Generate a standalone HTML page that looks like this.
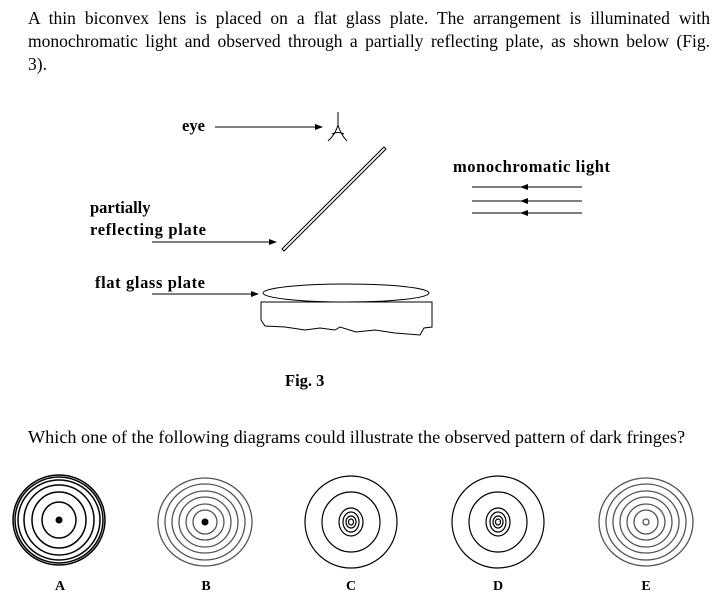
<!DOCTYPE html>
<html><head><style>
body{margin:0;background:#fff;}
svg{display:block;position:absolute;left:0;top:0;}
.p{position:absolute;left:28px;width:682px;font-family:"Liberation Serif",serif;font-size:17.5px;line-height:23px;color:#000;white-space:nowrap;}
.j{text-align:justify;text-align-last:justify;white-space:normal;}
</style></head><body>
<div class="p j" style="top:7px">A thin biconvex lens is placed on a flat glass plate. The arrangement is illuminated with</div>
<div class="p j" style="top:30px">monochromatic light and observed through a partially reflecting plate, as shown below (Fig.</div>
<div class="p" style="top:53px">3).</div>
<div class="p" style="top:426px;font-size:18.2px">Which one of the following diagrams could illustrate the observed pattern of dark fringes?</div>
<svg width="719" height="615" xmlns="http://www.w3.org/2000/svg" font-family="Liberation Serif, serif">
<defs><marker id="ar" markerWidth="8" markerHeight="6" refX="7" refY="3" orient="auto" markerUnits="userSpaceOnUse"><path d="M0,0 L8,3 L0,6z" fill="#000"/></marker></defs>
<g font-size="16.5" font-weight="bold">
<text x="182" y="131">eye</text>
<text x="453" y="172" textLength="157">monochromatic light</text>
<text x="90" y="213">partially</text>
<text x="90" y="235" textLength="116">reflecting plate</text>
<text x="95" y="288" textLength="110">flat glass plate</text>
<text x="285" y="386">Fig. 3</text>
</g>
<g stroke="#000" stroke-width="1" fill="none">
<line x1="215" y1="127" x2="322" y2="127" marker-end="url(#ar)"/>
<path d="M338,112 L338,125 Q335,135 328,141 M338,125 Q341,135 347,141 M332,134 Q338,131 344,134"/>
<path d="M282,249 L384,147 L386,149 L284,251 Z"/>
<line x1="472" y1="187" x2="582" y2="187"/><line x1="472" y1="201" x2="582" y2="201"/><line x1="472" y1="213" x2="582" y2="213"/>
<line x1="152" y1="242" x2="276" y2="242" marker-end="url(#ar)"/>
<line x1="152" y1="294" x2="258" y2="294" marker-end="url(#ar)"/>
<ellipse cx="346" cy="293" rx="83" ry="9"/>
<path d="M261,302 L432,302 L432,327 L424,328 L420,335 L395,333 L375,330 L356,332 L340,327 L335,330 L320,328 L305,330 L285,327 L265,326 L261,320 Z"/>
</g>
<g fill="#000">
<path d="M528,184 L520,187 L528,190z"/><path d="M528,198 L520,201 L528,204z"/><path d="M528,210 L520,213 L528,216z"/>
</g>
<g fill="none" stroke="#000">
<g stroke-width="1.5"><ellipse cx="59" cy="520" rx="46" ry="45"/><ellipse cx="59" cy="520" rx="44" ry="43"/><ellipse cx="59" cy="520" rx="41" ry="40"/><ellipse cx="59" cy="520" rx="35" ry="35"/><ellipse cx="59" cy="520" rx="27" ry="28"/><ellipse cx="59" cy="520" rx="17" ry="18"/></g>
<g stroke="#555" stroke-width="1.3"><ellipse cx="205" cy="522" rx="47" ry="44"/><ellipse cx="205" cy="522" rx="40" ry="38"/><ellipse cx="205" cy="522" rx="33" ry="31"/><ellipse cx="205" cy="522" rx="26" ry="25"/><ellipse cx="205" cy="522" rx="19" ry="18"/><ellipse cx="205" cy="522" rx="12" ry="12"/></g>
<g stroke-width="1.2"><ellipse cx="351" cy="522" rx="46" ry="46"/><ellipse cx="351" cy="522" rx="29" ry="30"/><ellipse cx="351" cy="522" rx="12" ry="14"/><ellipse cx="351" cy="522" rx="8" ry="10"/><ellipse cx="351" cy="522" rx="5" ry="6"/><ellipse cx="351" cy="522" rx="2.5" ry="3"/></g>
<g stroke-width="1.2"><ellipse cx="498" cy="522" rx="46" ry="46"/><ellipse cx="498" cy="522" rx="29" ry="30"/><ellipse cx="498" cy="522" rx="12" ry="14"/><ellipse cx="498" cy="522" rx="8" ry="10"/><ellipse cx="498" cy="522" rx="5" ry="6"/><ellipse cx="498" cy="522" rx="2.5" ry="3"/></g>
<g stroke="#555" stroke-width="1.3"><ellipse cx="646" cy="522" rx="47" ry="44"/><ellipse cx="646" cy="522" rx="40" ry="38"/><ellipse cx="646" cy="522" rx="33" ry="31"/><ellipse cx="646" cy="522" rx="26" ry="25"/><ellipse cx="646" cy="522" rx="19" ry="18"/><ellipse cx="646" cy="522" rx="12" ry="12"/><ellipse cx="646" cy="522" rx="3" ry="3"/></g>
</g>
<circle cx="59" cy="520" r="3.5"/><circle cx="205" cy="522" r="3.5"/>
<g font-size="14" font-weight="bold" text-anchor="middle">
<text x="60" y="590">A</text><text x="206" y="590">B</text><text x="351" y="590">C</text><text x="498" y="590">D</text><text x="646" y="590">E</text>
</g>
</svg>
</body></html>
